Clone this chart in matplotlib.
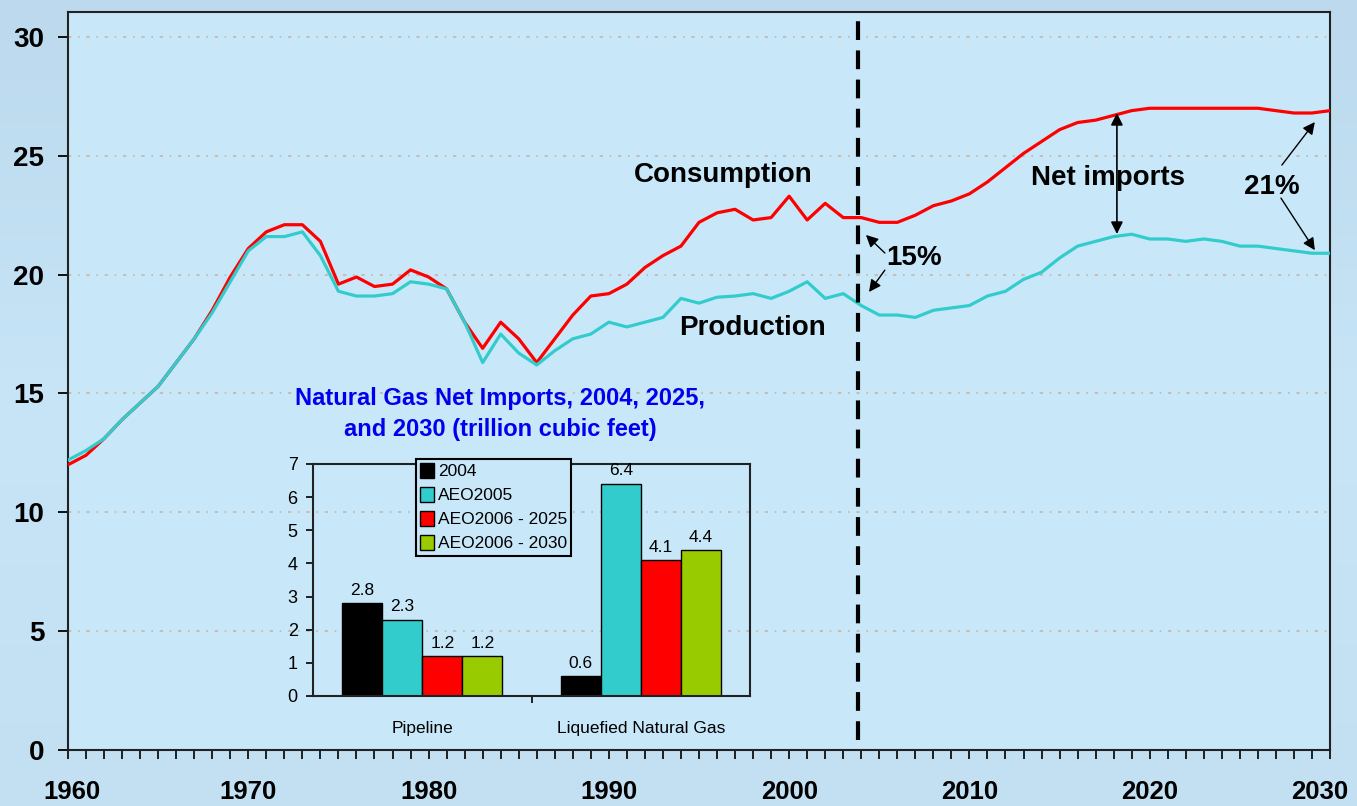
import matplotlib.pyplot as plt
import numpy as np
from matplotlib.colors import LinearSegmentedColormap
from matplotlib.transforms import ScaledTranslation

plt.rcParams['font.family'] = ['Liberation Sans', 'DejaVu Sans']

# Main chart: US natural gas consumption and production (trillion cubic feet)
years = list(range(1960, 2031))
consumption = [
    12.0, 12.4, 13.1, 13.9, 14.6, 15.3, 16.3, 17.3, 18.5, 19.9,
    21.1, 21.8, 22.1, 22.1, 21.4, 19.6, 19.9, 19.5, 19.6, 20.2,
    19.9, 19.4, 18.0, 16.9, 18.0, 17.3, 16.3, 17.3, 18.3, 19.1,
    19.2, 19.6, 20.3, 20.8, 21.2, 22.2, 22.6, 22.75, 22.3, 22.4,
    23.3, 22.3, 23.0, 22.4, 22.4, 22.2, 22.2, 22.5, 22.9, 23.1,
    23.4, 23.9, 24.5, 25.1, 25.6, 26.1, 26.4, 26.5, 26.7, 26.9,
    27.0, 27.0, 27.0, 27.0, 27.0, 27.0, 27.0, 26.9, 26.8, 26.8,
    26.9,
]
production = [
    12.2, 12.6, 13.1, 13.9, 14.6, 15.3, 16.3, 17.3, 18.4, 19.7,
    21.0, 21.6, 21.6, 21.8, 20.8, 19.3, 19.1, 19.1, 19.2, 19.7,
    19.6, 19.4, 18.0, 16.3, 17.5, 16.7, 16.2, 16.8, 17.3, 17.5,
    18.0, 17.8, 18.0, 18.2, 19.0, 18.8, 19.05, 19.1, 19.2, 19.0,
    19.3, 19.7, 19.0, 19.2, 18.7, 18.3, 18.3, 18.2, 18.5, 18.6,
    18.7, 19.1, 19.3, 19.8, 20.1, 20.7, 21.2, 21.4, 21.6, 21.7,
    21.5, 21.5, 21.4, 21.5, 21.4, 21.2, 21.2, 21.1, 21.0, 20.9,
    20.9,
]

# Inset: net imports (trillion cubic feet)
inset_categories = ["Pipeline", "Liquefied Natural Gas"]
inset_series = ["2004", "AEO2005", "AEO2006 - 2025", "AEO2006 - 2030"]
imports_2004 = [2.8, 0.6]
imports_aeo2005 = [2.3, 6.4]
imports_aeo2006_2025 = [1.2, 4.1]
imports_aeo2006_2030 = [1.2, 4.4]
inset_colors = ["#000000", "#33cccc", "#ff0000", "#99cc00"]

fig = plt.figure(figsize=(13.57, 8.06), dpi=100)

# gradient background
bg = fig.add_axes([0, 0, 1, 1], zorder=-10)
grad = np.linspace(0, 1, 256).reshape(-1, 1)
cmap = LinearSegmentedColormap.from_list("bg", ["#bcd9ed", "#c7e5f7", "#c3e0f2"])
bg.imshow(grad, aspect="auto", cmap=cmap, extent=[0, 1, 0, 1])
bg.axis("off")

ax = fig.add_axes([68 / 1357, 56 / 806, 1262 / 1357, 738 / 806])
ax.set_facecolor("#c8e8fa")
ax.set_xlim(1960, 2030)
ax.set_ylim(0, 31.05)

ax.plot(years, consumption, color="#ff0000", lw=2.3, zorder=3)
ax.plot(years, production, color="#33cccc", lw=2.3, zorder=4)

ax.set_yticks(range(0, 31, 5))
ax.set_xticks(range(1960, 2031, 10))
ax.set_xticks(range(1960, 2031), minor=True)
ax.grid(axis="y", linestyle=(0, (2, 4, 1, 4)), color="#c6b6a6", lw=1.2)
ax.tick_params(axis="y", direction="out", length=7, width=1.3, pad=10,
               labelsize=20)
ax.tick_params(axis="x", which="both", direction="out", length=6.5, width=1.2,
               pad=15, labelsize=18.5)
for lbl in ax.get_xticklabels() + ax.get_yticklabels():
    lbl.set_fontweight("bold")
xlabels = ax.get_xticklabels()
xlabels[0].set_transform(xlabels[0].get_transform()
                         + ScaledTranslation(0.04, 0, fig.dpi_scale_trans))
xlabels[-1].set_transform(xlabels[-1].get_transform()
                          + ScaledTranslation(-0.1, 0, fig.dpi_scale_trans))
for s in ax.spines.values():
    s.set_linewidth(1.5)
    s.set_color("#222222")

# forecast divider
ax.axvline(2003.8, ymin=0.013, ymax=1, color="black", lw=3,
           linestyle=(0, (4.5, 2.5)), zorder=5)

# labels
ax.text(1996.33, 24.19, "Consumption", fontsize=20, fontweight="bold",
        ha="center", va="center")
ax.text(1997.94, 17.75, "Production", fontsize=20, fontweight="bold",
        ha="center", va="center")
ax.text(2017.68, 24.06, "Net imports", fontsize=20, fontweight="bold",
        ha="center", va="center")
ax.text(2006.92, 20.7, "15%", fontsize=20, fontweight="bold",
        ha="center", va="center")
ax.text(2026.78, 23.69, "21%", fontsize=20, fontweight="bold",
        ha="center", va="center")

arrow = dict(arrowstyle="-|>", color="black", lw=1, mutation_scale=18,
             shrinkA=0, shrinkB=0)
ax.annotate("", xy=(2004.26, 21.67), xytext=(2005.31, 20.91), arrowprops=arrow)
ax.annotate("", xy=(2004.43, 19.27), xytext=(2005.31, 20.19), arrowprops=arrow)
ax.annotate("", xy=(2029.16, 26.42), xytext=(2027.33, 24.61), arrowprops=arrow)
ax.annotate("", xy=(2029.16, 21.03), xytext=(2027.28, 23.22), arrowprops=arrow)
ax.annotate("", xy=(2018.18, 26.8), xytext=(2018.18, 21.71),
            arrowprops=dict(arrowstyle="<|-|>", color="black", lw=1.2,
                            mutation_scale=18, shrinkA=0, shrinkB=0))

# inset bar chart
ins = fig.add_axes([313 / 1357, 110 / 806, 437 / 1357, 232 / 806], zorder=6)
ins.set_facecolor("none")
x = np.arange(len(inset_categories))
w = 0.1835
series_vals = [imports_2004, imports_aeo2005, imports_aeo2006_2025,
               imports_aeo2006_2030]
for i, (name, vals, col) in enumerate(zip(inset_series, series_vals, inset_colors)):
    bars = ins.bar(x + (i - 1.5) * w, vals, w, color=col, edgecolor="black",
                   lw=1, label=name)
    ins.bar_label(bars, labels=[f"{v:.1f}" for v in vals], padding=4,
                  fontsize=12.5)
ins.set_xlim(-0.5, 1.5)
ins.set_ylim(0, 7)
ins.set_yticks(range(0, 8))
ins.set_xticks([0.5])
ins.set_xticklabels([])
ins.set_xticks(x, minor=True)
ins.set_xticklabels(inset_categories, minor=True, fontsize=12.5)
ins.tick_params(axis="x", which="minor", length=0, pad=18)
ins.tick_params(axis="x", which="major", direction="out", length=5, width=1.2)
ins.tick_params(axis="y", direction="out", length=5, width=1.2, pad=6,
                labelsize=13)
for s in ins.spines.values():
    s.set_linewidth(1.5)
    s.set_color("#222222")

leg = ins.legend(loc="upper left", bbox_to_anchor=(0.236, 1.022), fontsize=12.5,
                 frameon=True, fancybox=False, edgecolor="black",
                 handlelength=0.8, handleheight=0.9, handletextpad=0.2,
                 labelspacing=0.45, borderpad=0.25, borderaxespad=0)
leg.get_frame().set_facecolor("#c8e8fa")
leg.get_frame().set_alpha(None)
leg.get_frame().set_linewidth(1.5)

fig.text(500 / 1357, 1 - 414 / 806,
         "Natural Gas Net Imports, 2004, 2025,\nand 2030 (trillion cubic feet)",
         color="#0000ee", fontsize=17, fontweight="bold", ha="center",
         va="center", linespacing=1.45)

fig.savefig("out.png", dpi=100)
